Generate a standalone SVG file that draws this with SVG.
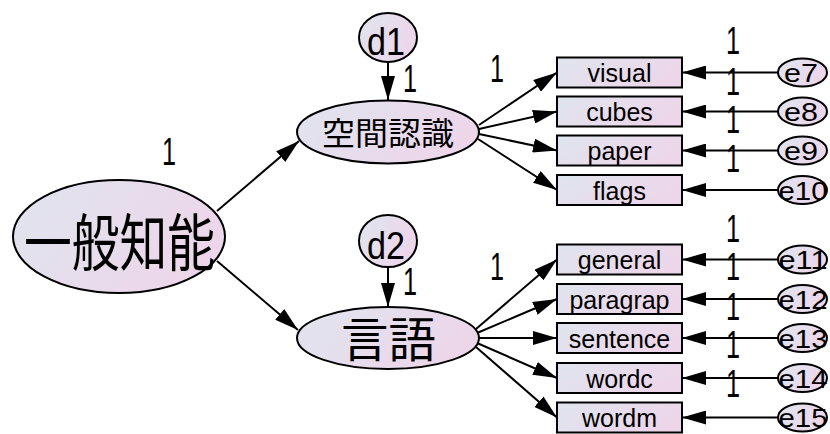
<svg xmlns="http://www.w3.org/2000/svg" width="830" height="434" viewBox="0 0 830 434">
  <defs>
    <linearGradient id="fill" x1="0" y1="0" x2="1" y2="0.35">
      <stop offset="0" stop-color="#dfe5ee"/>
      <stop offset="1" stop-color="#edd6ea"/>
    </linearGradient>
    <marker id="head" markerUnits="userSpaceOnUse" markerWidth="24" markerHeight="14" refX="24" refY="7" orient="auto">
      <path d="M0,0 L24,7 L0,14 Z" fill="#000"/>
    </marker>
    <style>
      .shape { fill: url(#fill); stroke: #000; stroke-width: 2; }
      .edge { fill: none; stroke: #000; stroke-width: 2; marker-end: url(#head); }
      .lat { font-family: "Noto Sans CJK JP", "Noto Sans CJK SC", sans-serif; text-anchor: middle; fill: #000; }
      .obs { font-family: "Liberation Sans", Arial, sans-serif; font-size: 25px; text-anchor: middle; fill: #000; }
      .err { font-family: "Liberation Sans", Arial, sans-serif; font-size: 25px; text-anchor: middle; fill: #000; }
      .dis { font-family: "Liberation Sans", Arial, sans-serif; font-size: 39px; text-anchor: middle; fill: #000; }
      .w { font-family: "Liberation Sans", Arial, sans-serif; font-size: 39px; text-anchor: middle; fill: #000; }
    </style>
  </defs>

  <rect width="830" height="434" fill="#fff"/>

  <!-- connectors -->
  <g id="connectors">
    <path class="edge" d="M217,211 L299,141"/>
    <path class="edge" d="M217,261 L298,330"/>
    <path class="edge" d="M388,62 L388,100"/>
    <path class="edge" d="M388,267 L388,307"/>
    <!-- factor loadings: spatial -->
    <path class="edge" d="M479,125 L557,72.5"/>
    <path class="edge" d="M479,129 L557,111.5"/>
    <path class="edge" d="M479,134 L557,150.5"/>
    <path class="edge" d="M478,139 L557,190"/>
    <!-- factor loadings: verbal -->
    <path class="edge" d="M476,329 L557,259.5"/>
    <path class="edge" d="M477,333 L557,299"/>
    <path class="edge" d="M479,338 L557,338"/>
    <path class="edge" d="M477,343 L557,378"/>
    <path class="edge" d="M476,347 L557,417.5"/>
    <!-- error terms -->
    <path class="edge" d="M778,72.5 L682,72.5"/>
    <path class="edge" d="M778,111.5 L682,111.5"/>
    <path class="edge" d="M778,150.5 L682,150.5"/>
    <path class="edge" d="M778,190 L682,190"/>
    <path class="edge" d="M778,259.5 L682,259.5"/>
    <path class="edge" d="M778,299 L682,299"/>
    <path class="edge" d="M778,338 L682,338"/>
    <path class="edge" d="M778,378 L682,378"/>
    <path class="edge" d="M778,417.5 L682,417.5"/>
  </g>

  <!-- latent variables -->
  <g id="general">
    <ellipse class="shape" cx="119" cy="236.5" rx="106" ry="56.5"/>
    <text class="lat" x="119.5" y="266" font-size="62" textLength="191" lengthAdjust="spacingAndGlyphs">一般知能</text>
  </g>
  <g id="spatial">
    <ellipse class="shape" cx="388" cy="132" rx="91" ry="31.5"/>
    <text class="lat" x="388" y="145" font-size="32" textLength="132" lengthAdjust="spacingAndGlyphs">空間認識</text>
  </g>
  <g id="verbal">
    <ellipse class="shape" cx="388" cy="338" rx="91" ry="31"/>
    <text class="lat" x="388.5" y="357" font-size="48" textLength="95" lengthAdjust="spacingAndGlyphs">言語</text>
  </g>
  <g id="d1">
    <ellipse class="shape" cx="388" cy="37.5" rx="29" ry="24.5"/>
    <text class="dis" x="386" y="55" textLength="38" lengthAdjust="spacingAndGlyphs">d1</text>
  </g>
  <g id="d2">
    <ellipse class="shape" cx="388" cy="241" rx="29" ry="26"/>
    <text class="dis" x="386" y="258.5" textLength="38" lengthAdjust="spacingAndGlyphs">d2</text>
  </g>

  <!-- observed variables -->
  <g id="visual"><rect class="shape" x="557" y="57.5" width="125" height="30"/><text class="obs" x="619.5" y="82">visual</text></g>
  <g id="cubes"><rect class="shape" x="557" y="96.5" width="125" height="30"/><text class="obs" x="619.5" y="121">cubes</text></g>
  <g id="paper"><rect class="shape" x="557" y="135.5" width="125" height="30"/><text class="obs" x="619.5" y="160">paper</text></g>
  <g id="flags"><rect class="shape" x="557" y="175" width="125" height="30"/><text class="obs" x="619.5" y="199.5">flags</text></g>
  <g id="generalObs"><rect class="shape" x="557" y="244.5" width="125" height="30"/><text class="obs" x="619.5" y="269">general</text></g>
  <g id="paragrap"><rect class="shape" x="557" y="284" width="125" height="30"/><text class="obs" x="619.5" y="308.5">paragrap</text></g>
  <g id="sentence"><rect class="shape" x="557" y="323" width="125" height="30"/><text class="obs" x="619.5" y="347.5">sentence</text></g>
  <g id="wordc"><rect class="shape" x="557" y="363" width="125" height="30"/><text class="obs" x="619.5" y="387.5">wordc</text></g>
  <g id="wordm"><rect class="shape" x="557" y="402.5" width="125" height="30"/><text class="obs" x="619.5" y="427">wordm</text></g>

  <!-- error terms -->
  <g id="e7"><ellipse class="shape" cx="802.5" cy="72.5" rx="24.5" ry="14"/><text class="err" x="801" y="82" textLength="34" lengthAdjust="spacingAndGlyphs">e7</text></g>
  <g id="e8"><ellipse class="shape" cx="802.5" cy="111.5" rx="24.5" ry="14"/><text class="err" x="801" y="121" textLength="34" lengthAdjust="spacingAndGlyphs">e8</text></g>
  <g id="e9"><ellipse class="shape" cx="802.5" cy="150.5" rx="24.5" ry="14"/><text class="err" x="801" y="160" textLength="34" lengthAdjust="spacingAndGlyphs">e9</text></g>
  <g id="e10"><ellipse class="shape" cx="802.5" cy="190" rx="24.5" ry="14"/><text class="err" x="803" y="199.5" textLength="49" lengthAdjust="spacingAndGlyphs">e10</text></g>
  <g id="e11"><ellipse class="shape" cx="802.5" cy="259.5" rx="24.5" ry="14"/><text class="err" x="803" y="269" textLength="49" lengthAdjust="spacingAndGlyphs">e11</text></g>
  <g id="e12"><ellipse class="shape" cx="802.5" cy="299" rx="24.5" ry="14"/><text class="err" x="803" y="308.5" textLength="49" lengthAdjust="spacingAndGlyphs">e12</text></g>
  <g id="e13"><ellipse class="shape" cx="802.5" cy="338" rx="24.5" ry="14"/><text class="err" x="803" y="347.5" textLength="49" lengthAdjust="spacingAndGlyphs">e13</text></g>
  <g id="e14"><ellipse class="shape" cx="802.5" cy="378" rx="24.5" ry="14"/><text class="err" x="803" y="387.5" textLength="49" lengthAdjust="spacingAndGlyphs">e14</text></g>
  <g id="e15"><ellipse class="shape" cx="802.5" cy="417.5" rx="24.5" ry="14"/><text class="err" x="803" y="427" textLength="49" lengthAdjust="spacingAndGlyphs">e15</text></g>

  <!-- fixed path weights -->
  <g id="weights">
    <text class="w" x="169" y="165" textLength="14" lengthAdjust="spacingAndGlyphs">1</text>
    <text class="w" x="410" y="92" textLength="14" lengthAdjust="spacingAndGlyphs">1</text>
    <text class="w" x="497" y="82" textLength="14" lengthAdjust="spacingAndGlyphs">1</text>
    <text class="w" x="410" y="295" textLength="14" lengthAdjust="spacingAndGlyphs">1</text>
    <text class="w" x="497" y="280" textLength="14" lengthAdjust="spacingAndGlyphs">1</text>
    <text class="w" x="733" y="54" textLength="14" lengthAdjust="spacingAndGlyphs">1</text>
    <text class="w" x="733" y="95" textLength="14" lengthAdjust="spacingAndGlyphs">1</text>
    <text class="w" x="733" y="133" textLength="14" lengthAdjust="spacingAndGlyphs">1</text>
    <text class="w" x="733" y="172" textLength="14" lengthAdjust="spacingAndGlyphs">1</text>
    <text class="w" x="733" y="242" textLength="14" lengthAdjust="spacingAndGlyphs">1</text>
    <text class="w" x="733" y="280" textLength="14" lengthAdjust="spacingAndGlyphs">1</text>
    <text class="w" x="733" y="320" textLength="14" lengthAdjust="spacingAndGlyphs">1</text>
    <text class="w" x="733" y="358" textLength="14" lengthAdjust="spacingAndGlyphs">1</text>
    <text class="w" x="733" y="397" textLength="14" lengthAdjust="spacingAndGlyphs">1</text>
  </g>
</svg>
